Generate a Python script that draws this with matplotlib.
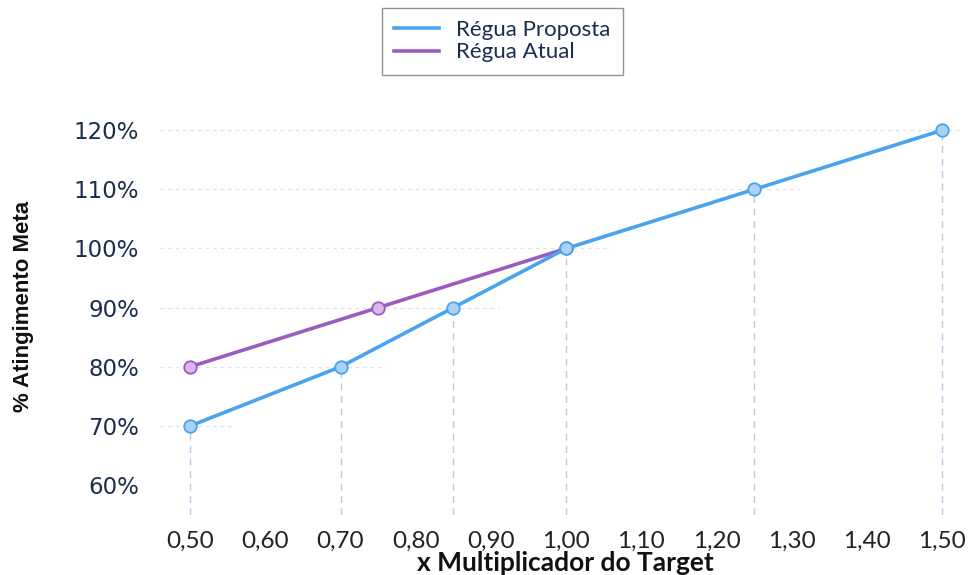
import matplotlib
matplotlib.use("Agg")
import matplotlib.pyplot as plt
from matplotlib.lines import Line2D

# Multiplier of target (x) vs. % goal attainment (y)
proposta_x = [0.50, 0.70, 0.85, 1.00, 1.25, 1.50]
proposta_y = [0.70, 0.80, 0.90, 1.00, 1.10, 1.20]
atual_x = [0.50, 0.75, 1.00]
atual_y = [0.80, 0.90, 1.00]

x_ticks = [0.50, 0.60, 0.70, 0.80, 0.90, 1.00, 1.10, 1.20, 1.30, 1.40, 1.50]
y_ticks = [0.60, 0.70, 0.80, 0.90, 1.00, 1.10, 1.20]

series_names = ["Régua Proposta", "Régua Atual"]

blue = "#4aa3ee"
blue_fill = "#a9d2f5"
purple = "#9a5cc0"
purple_fill = "#dcb6ec"
navy = "#1c2c4c"

fig = plt.figure(figsize=(9.7, 5.75), dpi=100)
ax = fig.add_axes([0.165, 0.104, 0.825, 0.687])
xlim = (0.46, 1.524)
ylim = (0.549, 1.217)
ax.set_xlim(*xlim)
ax.set_ylim(*ylim)

# faint dotted guides from the axis to the points on each level
levels = {}
for xs, ys in ((proposta_x, proposta_y), (atual_x, atual_y)):
    for xv, yv in zip(xs, ys):
        levels[yv] = max(levels.get(yv, xlim[0]), xv)
for yv, xmax in levels.items():
    ax.hlines(yv, xlim[0], xmax + 0.06, colors="#e3e3e3", linestyles=(0, (3, 3)),
              linewidth=0.9, zorder=1)

# dashed drop lines under the proposed curve
ax.vlines(proposta_x, ylim[0], proposta_y, colors="#b8cbe2",
          linestyles=(0, (5, 4)), linewidth=1.0, zorder=1)

ax.plot(atual_x, atual_y, color=purple, lw=2.6, marker="o", ms=9,
        mfc=purple_fill, mec=purple, mew=1.3, zorder=3)
ax.plot(proposta_x, proposta_y, color=blue, lw=2.6, marker="o", ms=9,
        mfc=blue_fill, mec=blue, mew=1.3, zorder=4)

ax.set_xticks(x_ticks)
ax.set_xticklabels([f"{v:.2f}".replace(".", ",") for v in x_ticks],
                   fontsize=17.5, color="#222222", family="Lato")
ax.set_yticks(y_ticks)
ax.set_yticklabels([f"{round(v * 100)}%" for v in y_ticks],
                   fontsize=16.5, color=navy)
ax.tick_params(axis="both", length=0)
ax.tick_params(axis="y", pad=15)
ax.tick_params(axis="x", pad=11)
for s in ax.spines.values():
    s.set_visible(False)

fig.text(565 / 970, 1 - 563 / 575, "x Multiplicador do Target", ha="center",
         va="center", fontsize=19, fontweight="bold", family="Lato",
         color="#111111")
fig.text(0.024, 1 - 306 / 575, "% Atingimento Meta", rotation=90, ha="center",
         va="center", fontsize=16, fontweight="bold", family="Liberation Sans",
         color="#111111")

handles = [Line2D([], [], color=blue, lw=2.6), Line2D([], [], color=purple, lw=2.6)]
leg = fig.legend(handles, series_names, loc="upper left",
                 bbox_to_anchor=(382 / 970, 1 - 8 / 575), frameon=True,
                 fancybox=False, edgecolor="#777777", handlelength=2.0,
                 borderpad=0.55, labelspacing=0.1, handletextpad=0.8,
                 borderaxespad=0, prop={"family": "Lato", "size": 16})
for t in leg.get_texts():
    t.set_color(navy)
leg.get_frame().set_linewidth(1.0)

fig.savefig("out.png", dpi=100, facecolor="white")
